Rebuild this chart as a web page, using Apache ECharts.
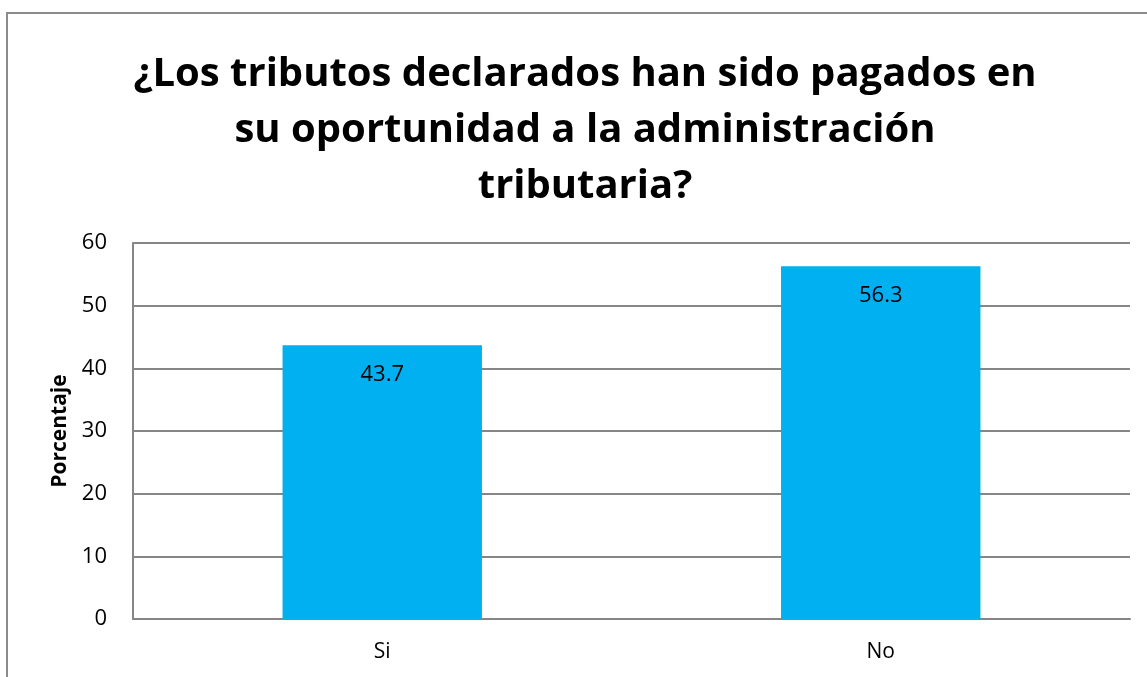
<!DOCTYPE html>
<html lang="es">

<head>
  <meta charset="UTF-8">
  <title>Tributos pagados</title>
  <style>
    html, body { margin: 0; padding: 0; background: #ffffff; }
    #main { width: 1147px; height: 677px; }
  </style>
  <script src="https://cdn.jsdelivr.net/npm/echarts@6/dist/echarts.min.js"></script>
</head>

<body>
  <div id="main"></div>
  <script>
    // datos del gráfico
    var categorias = ['Si', 'No'];
    var porcentajes = [43.7, 56.3];
    var ticksY = [0, 10, 20, 30, 40, 50, 60];

    var fuente = '"Open Sans", "Noto Sans", sans-serif';
    var myChart = echarts.init(document.getElementById('main'));

    var option = {
      backgroundColor: '#ffffff',
      // marco exterior del gráfico
      graphic: [{
        type: 'rect',
        shape: { x: 7, y: 13, width: 1160, height: 700 },
        style: { fill: 'none', stroke: '#8c8c8c', lineWidth: 2 },
        silent: true
      }],
      title: {
        text: '¿Los tributos declarados han sido pagados en\nsu oportunidad a la administración\ntributaria?',
        left: 580,
        top: 42,
        textAlign: 'center',
        textStyle: {
          fontFamily: fuente,
          fontWeight: 'bold',
          fontSize: 40,
          lineHeight: 56,
          color: '#000000'
        }
      },
      grid: {
        left: 133,
        right: 17,
        top: 243,
        bottom: 58
      },
      xAxis: {
        type: 'category',
        data: categorias,
        axisLine: { lineStyle: { color: '#868686', width: 2 } },
        axisTick: { show: false },
        axisLabel: {
          fontFamily: fuente,
          fontSize: 21,
          color: '#000000',
          margin: 23
        }
      },
      yAxis: {
        type: 'value',
        min: ticksY[0],
        max: ticksY[ticksY.length - 1],
        interval: 10,
        name: 'Porcentaje',
        nameLocation: 'middle',
        nameGap: 57,
        nameTextStyle: {
          fontFamily: fuente,
          fontWeight: 'bold',
          fontSize: 21,
          color: '#000000'
        },
        axisLine: { show: true, lineStyle: { color: '#868686', width: 2 } },
        axisTick: { show: false },
        axisLabel: {
          fontFamily: fuente,
          fontSize: 22,
          color: '#000000',
          margin: 26
        },
        splitLine: { lineStyle: { color: '#868686', width: 2 } }
      },
      series: [{
        type: 'bar',
        data: porcentajes,
        barWidth: '40%',
        itemStyle: { color: '#00b0f0' },
        label: {
          show: true,
          position: 'insideTop',
          distance: 19,
          fontFamily: fuente,
          fontSize: 22,
          color: '#000000'
        }
      }]
    };

    myChart.setOption(option);
  </script>
</body>

</html>
